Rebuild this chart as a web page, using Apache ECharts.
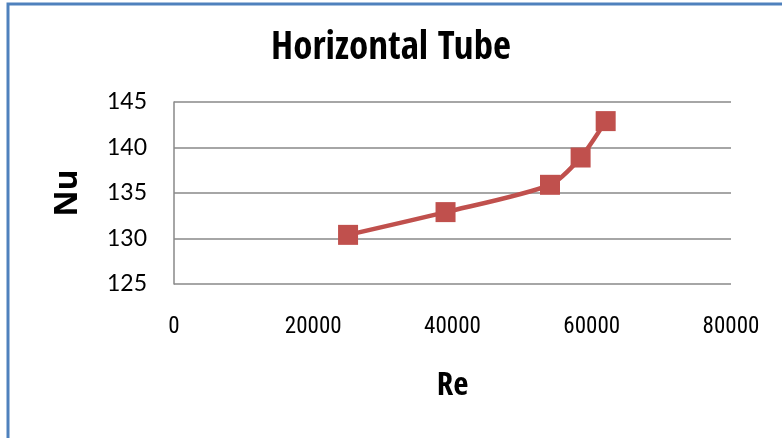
<!DOCTYPE html>
<html>
<head>
<meta charset="utf-8">
<script src="https://cdn.jsdelivr.net/npm/echarts@6/dist/echarts.min.js"></script>
<style>
  html, body { margin: 0; padding: 0; background: #fff; }
  #chart { width: 782px; height: 438px; }
</style>
</head>
<body>
<div id="chart"></div>
<script>
// Re vs Nu, horizontal tube
const reValues = [25000, 39000, 54000, 58400, 62000];
const nuValues = [130.4, 132.9, 135.9, 138.9, 142.9];
const xTicks = [0, 20000, 40000, 60000, 80000];
const yTicks = [125, 130, 135, 140, 145];

const narrow = '"Open Sans Condensed", "Roboto Condensed", sans-serif';
const wide = 'Lato, "Open Sans", sans-serif';

const chart = echarts.init(document.getElementById('chart'), null, { renderer: 'canvas' });

const option = {
  animation: false,
  backgroundColor: '#ffffff',
  title: {
    text: 'Horizontal Tube',
    left: 'center',
    top: 24,
    textStyle: { fontFamily: narrow, fontSize: 39, fontWeight: 'bold', color: '#000' }
  },
  grid: { left: 174, right: 51, top: 102, bottom: 154 },
  xAxis: {
    type: 'value',
    min: xTicks[0],
    max: xTicks[xTicks.length - 1],
    interval: 20000,
    name: 'Re',
    nameLocation: 'middle',
    nameGap: 86,
    nameTextStyle: { fontFamily: narrow, fontSize: 33, fontWeight: 'bold', color: '#000' },
    axisLine: { show: false },
    axisTick: { show: false },
    splitLine: { show: false },
    axisLabel: {
      margin: 32,
      fontFamily: '"Roboto Condensed", sans-serif',
      fontSize: 23,
      color: '#000',
      formatter: (v) => String(v)
    }
  },
  yAxis: {
    type: 'value',
    min: yTicks[0],
    max: yTicks[yTicks.length - 1],
    interval: 5,
    name: 'Nu',
    nameLocation: 'middle',
    nameGap: 90,
    nameRotate: 90,
    nameTextStyle: { fontFamily: '"Open Sans", sans-serif', fontSize: 32, fontWeight: 'bold', color: '#000' },
    axisLine: { show: true, lineStyle: { color: '#888888', width: 1.5 } },
    axisTick: { show: false },
    splitLine: { show: true, lineStyle: { color: '#888888', width: 1.5 } },
    axisLabel: { margin: 27, fontFamily: wide, fontSize: 23, color: '#000' }
  },
  series: [
    {
      type: 'line',
      data: reValues.map((re, i) => [re, nuValues[i]]),
      smooth: 0.25,
      symbol: 'rect',
      symbolSize: 20,
      itemStyle: { color: '#c0504d' },
      lineStyle: { color: '#c0504d', width: 4.5 }
    }
  ],
  graphic: [
    {
      type: 'rect',
      shape: { x: 8, y: 4, width: 900, height: 600 },
      style: { fill: 'none', stroke: '#4f81bd', lineWidth: 3 },
      silent: true
    }
  ]
};

chart.setOption(option);
</script>
</body>
</html>
